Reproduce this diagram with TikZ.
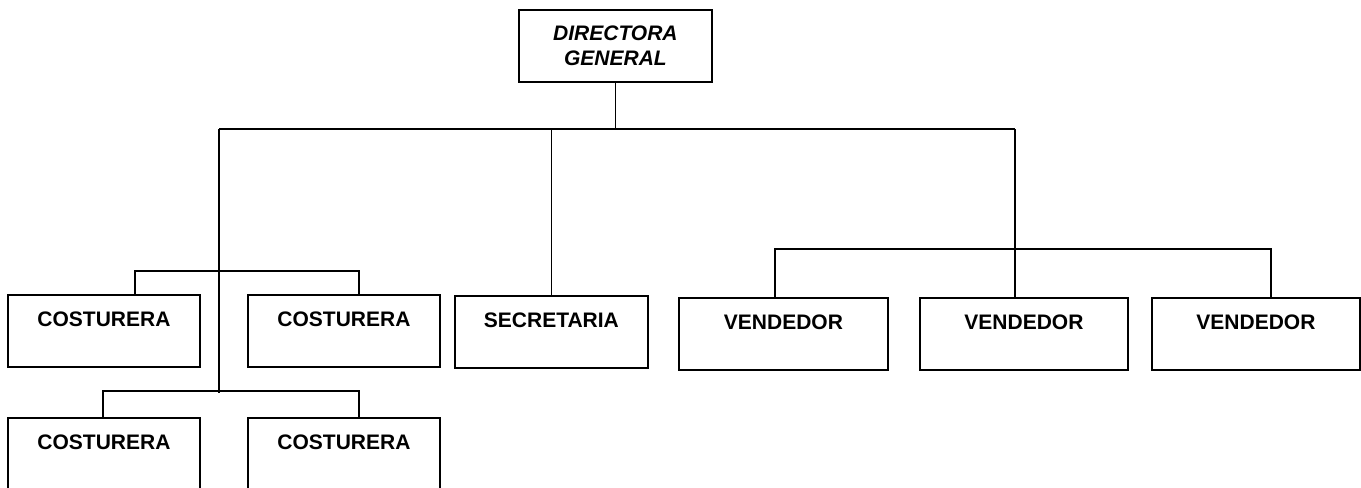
\documentclass[tikz,border=0pt]{standalone}
\usepackage{fontspec}
\setmainfont{Liberation Sans}
\tikzset{
  % cajas del organigrama: puesto normal y la directora
  puesto/.style={rectangle,draw,line width=1.4pt,anchor=north west,inner xsep=0,inner ysep=0,
    text height=23.6pt,text depth=30.4pt,font=\fontsize{15.75}{18.75}\selectfont\bfseries},
  jefe/.style={rectangle,draw,line width=1.4pt,anchor=north west,inner sep=0,minimum width=144.75pt,
    minimum height=54pt,align=center,font=\fontsize{15.75}{18.75}\selectfont\bfseries\itshape},
  linea/.style={line width=1.4pt}
}
\begin{document}
\begin{tikzpicture}[x=0.75pt,y=-0.75pt]
  \useasboundingbox (0,0) rectangle (1361,487);
  \clip (0,0) rectangle (1361,487);
  % Los puestos
  \node(dir)[jefe] at (518,9) {DIRECTORA\\GENERAL};
  \node(cost1)[puesto,minimum width=144pt] at (7,294) {COSTURERA};
  \node(cost2)[puesto,minimum width=144pt] at (247,294) {COSTURERA};
  \node(secre)[puesto,minimum width=144.75pt] at (454,295) {SECRETARIA};
  \node(vend1)[puesto,minimum width=156.75pt] at (678,297) {VENDEDOR};
  \node(vend2)[puesto,minimum width=156pt] at (919,297) {VENDEDOR};
  \node(vend3)[puesto,minimum width=156pt] at (1151,297) {VENDEDOR};
  \node(cost3)[puesto,minimum width=144pt] at (7,417) {COSTURERA};
  \node(cost4)[puesto,minimum width=144pt] at (247,417) {COSTURERA};
  % puntos de las barras
  \coordinate (barra izq) at (219,129);
  \coordinate (barra der) at (1015,129);
  \coordinate (fin) at (219,393);
  \coordinate (v izq) at (775,249);
  \coordinate (v der) at (1271,249);
  \coordinate (c1 izq) at (135,271);
  \coordinate (c1 der) at (359,271);
  \coordinate (c2 izq) at (103,391);
  \coordinate (c2 der) at (359,391);
  % Las lineas
  \draw[linea] (dir.south) -- (dir.south |- barra izq);
  \draw[linea] (barra izq) -- (barra der);
  \draw[linea] (barra izq) -- (fin);
  \draw[linea] (secre.north) -- (secre.north |- barra izq);
  \draw[linea] (barra der) -- (barra der |- vend2.north);
  \draw[linea] (vend1.north -| v izq) -- (v izq) -- (v der) -- (vend3.north -| v der);
  \draw[linea] (cost1.north -| c1 izq) -- (c1 izq) -- (c1 der) -- (cost2.north -| c1 der);
  \draw[linea] (cost3.north -| c2 izq) -- (c2 izq) -- (c2 der) -- (cost4.north -| c2 der);
\end{tikzpicture}
\end{document}
